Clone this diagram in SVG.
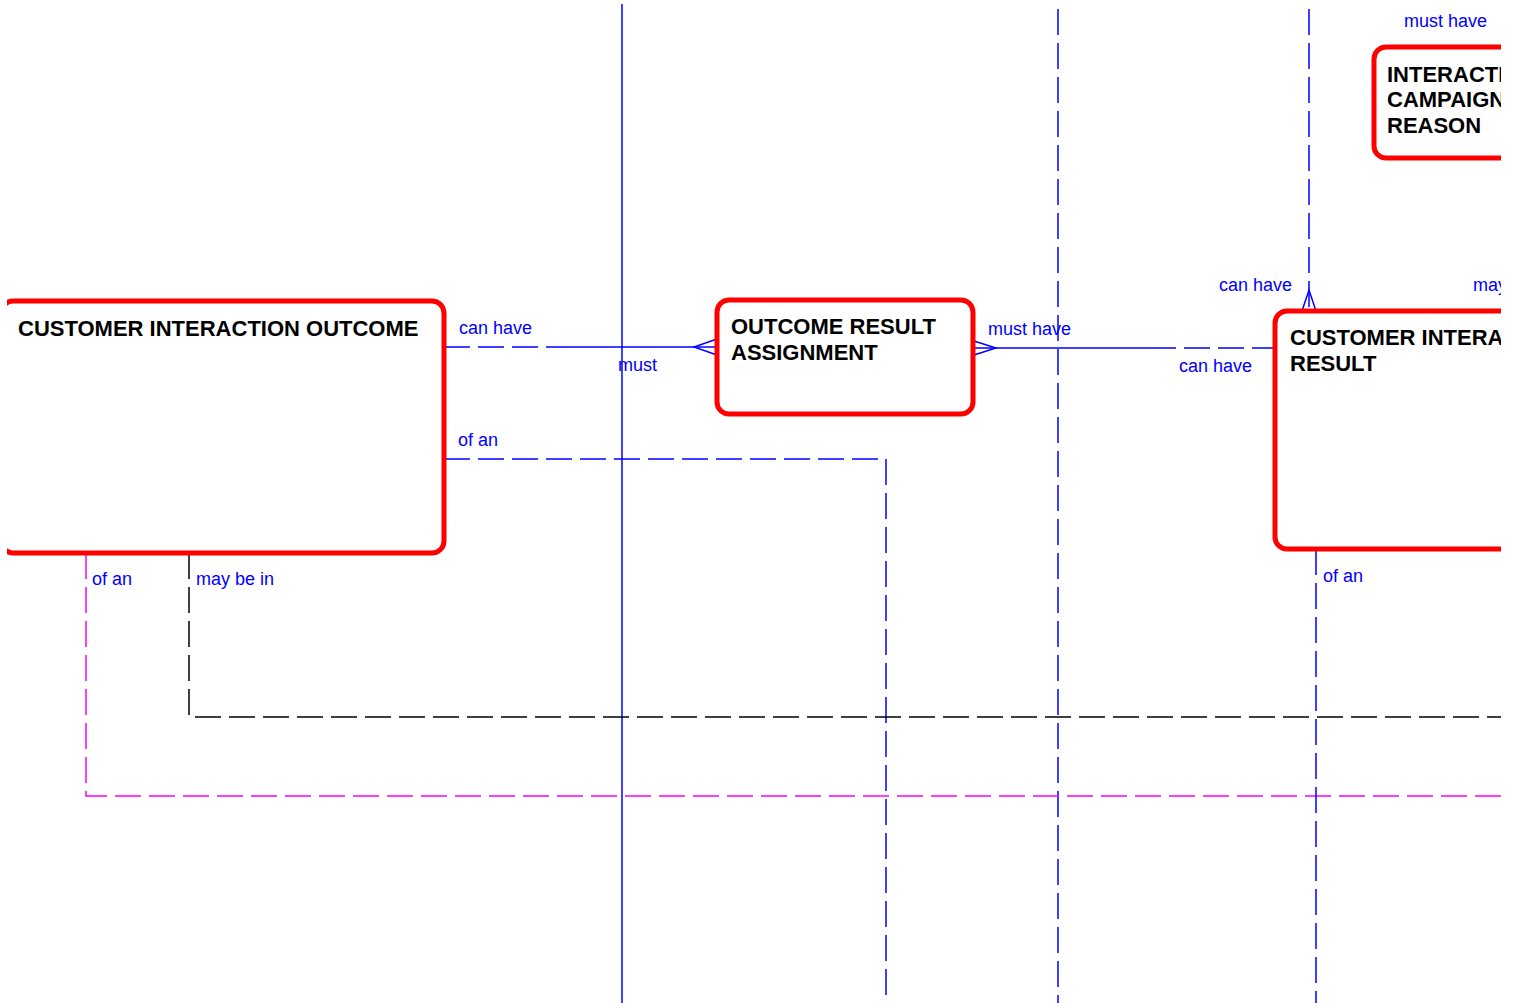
<svg xmlns="http://www.w3.org/2000/svg" width="1520" height="1003" viewBox="0 0 1520 1003">
<style>
.ent{fill:#fff;stroke:#ff0000;stroke-width:5}
.title{font-family:"Liberation Sans",Arial,sans-serif;font-weight:bold;font-size:22px;fill:#000}
.lbl{font-family:"Liberation Sans",Arial,sans-serif;font-size:18px;fill:#0000ff}
.c{fill:none;stroke:#0000ff;stroke-width:1.5}
.d{stroke-dasharray:26 8}
.k{fill:none;stroke:#000;stroke-width:1.5;stroke-dasharray:26 8}
.m{fill:none;stroke:#ff00ff;stroke-width:1.5;stroke-dasharray:26 8}
</style>
<defs>
<clipPath id="vp"><rect x="7" y="0" width="1494" height="1003"/></clipPath>
</defs>
<rect width="1520" height="1003" fill="#fff"/>
<g clip-path="url(#vp)">
<g id="connectors">
<line class="c" x1="622" y1="4" x2="622" y2="1003"/>
<line class="c d" x1="444" y1="347" x2="556" y2="347"/>
<line class="c" x1="556" y1="347" x2="717" y2="347"/>
<polyline class="c" points="717,339 694,347 717,355"/>
<line class="c" x1="973" y1="348" x2="1150" y2="348"/>
<line class="c d" x1="1150" y1="348" x2="1275" y2="348"/>
<polyline class="c" points="974,341 996,348 974,355"/>
<line class="c d" x1="1058" y1="9" x2="1058" y2="1003"/>
<line class="c d" x1="1309" y1="9" x2="1309" y2="311"/>
<polyline class="c" points="1302,311 1309,290 1316,311"/>
<polyline class="c d" points="444,459 886,459 886,1010"/>
<polyline class="k" points="189,553 189,717 1501,717"/>
<polyline class="m" points="86,553 86,796 1501,796"/>
<line class="c d" x1="1316" y1="549" x2="1316" y2="1003"/>
<text class="lbl" x="459" y="334">can have</text>
<text class="lbl" x="618" y="371">must</text>
<text class="lbl" x="988" y="335">must have</text>
<text class="lbl" x="1179" y="372">can have</text>
<text class="lbl" x="1219" y="291">can have</text>
<text class="lbl" x="1473" y="291">may</text>
<text class="lbl" x="1404" y="27">must have</text>
<text class="lbl" x="458" y="446">of an</text>
<text class="lbl" x="92" y="585">of an</text>
<text class="lbl" x="196" y="585">may be in</text>
<text class="lbl" x="1323" y="582">of an</text>
</g>
<g id="cio">
<rect class="ent" x="1" y="301" width="443" height="252" rx="12"/>
<text class="title" x="18" y="336">CUSTOMER INTERACTION OUTCOME</text>
</g>
<g id="ora">
<rect class="ent" x="717" y="300" width="256" height="114" rx="12"/>
<text class="title" x="731" y="334">OUTCOME RESULT</text>
<text class="title" x="731" y="360">ASSIGNMENT</text>
</g>
<g id="cir">
<rect class="ent" x="1275" y="311" width="400" height="238" rx="12"/>
<text class="title" x="1290" y="345">CUSTOMER INTERA</text>
<text class="title" x="1290" y="371">RESULT</text>
</g>
<g id="icr">
<rect class="ent" x="1374" y="47" width="300" height="111" rx="12"/>
<text class="title" x="1387" y="82">INTERACTI</text>
<text class="title" x="1387" y="107">CAMPAIGN</text>
<text class="title" x="1387" y="133">REASON</text>
</g>
</g>
</svg>
